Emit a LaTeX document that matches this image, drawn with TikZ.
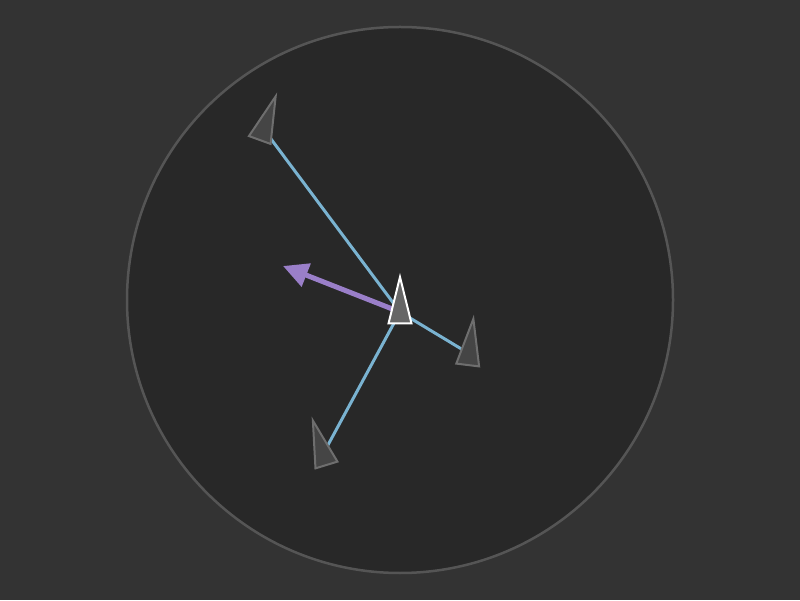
\documentclass[tikz,border=0pt]{standalone}
\usepackage{tikz}
\usetikzlibrary{arrows.meta}
\definecolor{bgC}{HTML}{333333}
\definecolor{rangeC}{HTML}{282828}
\definecolor{rimC}{HTML}{555555}
\definecolor{linkC}{HTML}{7AB3D1}
\definecolor{steerC}{HTML}{9A7FC9}
\definecolor{nbrC}{HTML}{454545}
\definecolor{nbrE}{HTML}{6E6E6E}
\definecolor{selfC}{HTML}{666666}
\tikzset{
  nbrlink/.style={linkC, line width=3pt},
  nbrboid/.style={draw=nbrE, fill=nbrC, line width=2pt},
  selfboid/.style={draw=white, fill=selfC, line width=2pt},
  steerarrow/.style={steerC, line width=5pt, -{Triangle[length=25pt,width=24pt]}},
  boid/.pic={\path[pic actions] (0,35) -- (-11.5,-11.5) -- (11.5,-11.5) -- cycle;}
}

\begin{document}
\begin{tikzpicture}[x=1pt, y=1pt]
% background and perception range
\fill[bgC] (0,0) rectangle (800,600);
\useasboundingbox (0,0) rectangle (800,600);
\draw[rimC, fill=rangeC, line width=2.5pt] (400,300) circle (273);
% boid positions
\coordinate (me) at (400,288);
\coordinate (nb1) at (263.7,470.8);
\coordinate (nb2) at (469.1,246.4);
\coordinate (nb3) at (323.1,146);
\coordinate (steer) at (283,334);
% links to neighbours
\draw[nbrlink] (me) -- (nb1);
\draw[nbrlink] (me) -- (nb2);
\draw[nbrlink] (me) -- (nb3);
% steering vector
\draw[steerarrow] (me) -- (steer);
% neighbours and the boid itself
\pic[nbrboid, rotate=-20] at (nb1) {boid};
\pic[nbrboid, rotate=-7] at (nb2) {boid};
\pic[nbrboid, rotate=17] at (nb3) {boid};
\pic[selfboid] at (me) {boid};
\end{tikzpicture}
\end{document}
